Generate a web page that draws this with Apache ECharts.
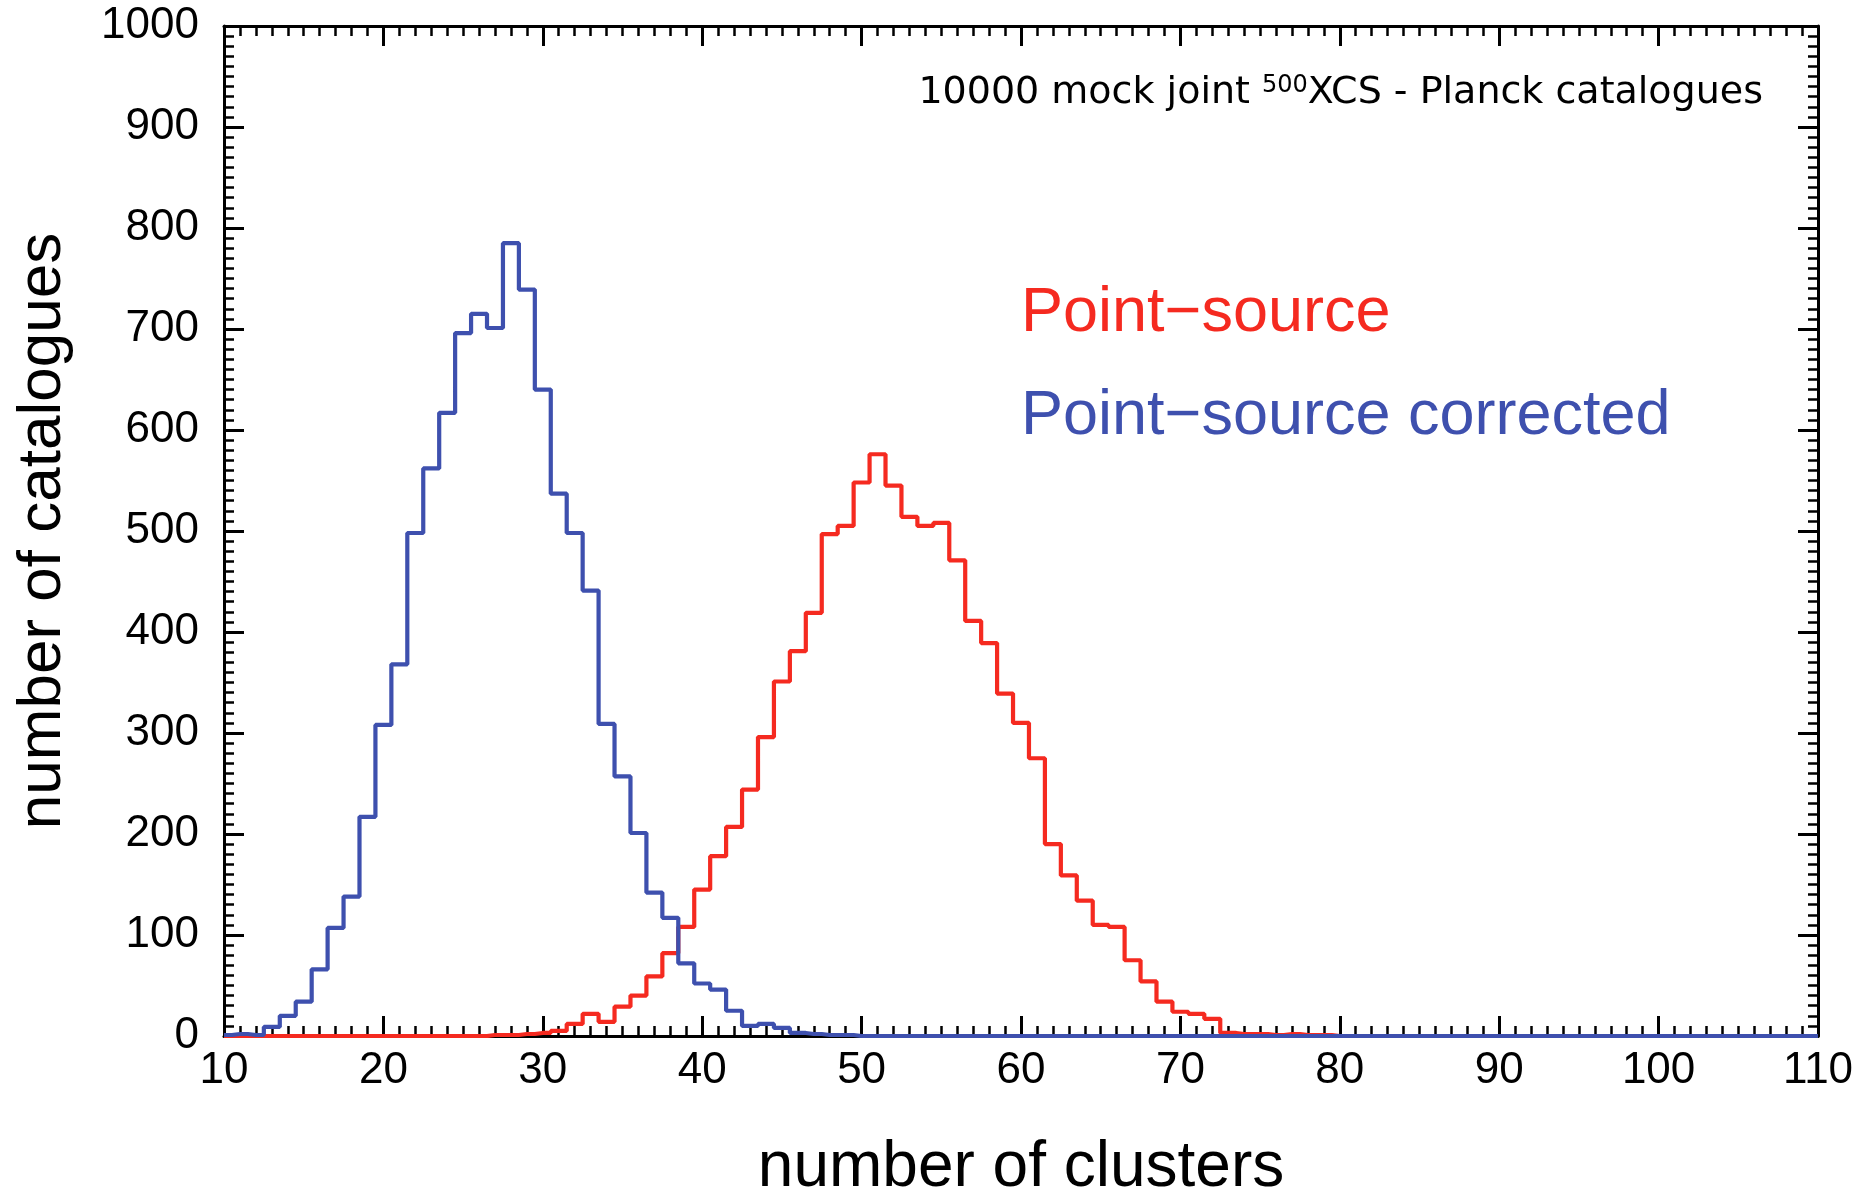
<!DOCTYPE html>
<html>
<head>
<meta charset="utf-8">
<script src="https://cdn.jsdelivr.net/npm/echarts@6/dist/echarts.min.js"></script>
<style>
html,body{margin:0;padding:0;background:#fff;}
#chart{width:1872px;height:1189px;}
</style>
</head>
<body>
<div id="chart"></div>
<script>
// Bin centres (number of clusters)
const binCenters = [10,11,12,13,14,15,16,17,18,19,20,21,22,23,24,25,26,27,28,29,30,31,32,33,34,35,36,37,38,39,40,41,42,43,44,45,46,47,48,49,50,51,52,53,54,55,56,57,58,59,60,61,62,63,64,65,66,67,68,69,70,71,72,73,74,75,76,77,78,79,80,81,82,83,84,85,86,87,88,89,90,91,92,93,94,95,96,97,98,99,100,101,102,103,104,105,106,107,108,109,110];

// Point-source (red) histogram counts
const pointSource = [
  0,0,0,0,0,0,0,0,0,0,
  0,0,0,0,0,0,0,1,1,2,
  3,5,12,22,14,29,40,59,82,108,
  145,178,207,244,296,351,381,419,497,505,
  548,576,545,514,505,508,471,411,389,339,
  310,275,190,159,134,110,108,75,54,34,
  24,22,17,3,2,2,1,2,1,1,
  0,0,0,0,0,0,0,0,0,0,
  0,0,0,0,0,0,0,0,0,0,
  0,0,0,0,0,0,0,0,0,0,
  0
];

// Point-source corrected (blue) histogram counts
const pointSourceCorrected = [
  1,2,1,9,20,34,66,107,138,217,
  308,368,498,562,617,696,715,701,785,739,
  640,537,498,441,309,257,201,142,117,72,
  52,46,25,10,12,8,3,2,1,1,
  0,0,0,0,0,0,0,0,0,0,
  0,0,0,0,0,0,0,0,0,0,
  0,0,0,0,0,0,0,0,0,0,
  0,0,0,0,0,0,0,0,0,0,
  0,0,0,0,0,0,0,0,0,0,
  0,0,0,0,0,0,0,0,0,0,
  0
];

const xTicks = [10,20,30,40,50,60,70,80,90,100,110];
const yTicks = [0,100,200,300,400,500,600,700,800,900,1000];

const RED = '#f52a20';
const BLUE = '#3e50ae';

const chart = echarts.init(document.getElementById('chart'), null, {renderer: 'canvas'});

const axisLineStyle = {color: '#000', width: 3};
const tickStyle = {color: '#000', width: 3};
const FONT = 'Liberation Sans, Arial, sans-serif';

function xAxisCfg(pos, showLabel) {
  return {
    type: 'value', position: pos, min: xTicks[0], max: xTicks[xTicks.length - 1], interval: 10,
    axisLine: {show: true, onZero: false, lineStyle: axisLineStyle},
    axisTick: {show: true, inside: true, length: 20, lineStyle: tickStyle},
    minorTick: {show: true, splitNumber: 10, length: 10, lineStyle: {color: '#000', width: 2.5}},
    splitLine: {show: false},
    axisLabel: {show: showLabel, margin: 13, color: '#000', fontSize: 44, fontFamily: FONT,
      formatter: v => String(v)},
    name: showLabel ? 'number of clusters' : '',
    nameLocation: 'middle', nameGap: 100,
    nameTextStyle: {color: '#000', fontSize: 64, fontFamily: FONT}
  };
}
function yAxisCfg(pos, showLabel) {
  return {
    type: 'value', position: pos, min: yTicks[0], max: yTicks[yTicks.length - 1], interval: 100,
    axisLine: {show: true, onZero: false, lineStyle: axisLineStyle},
    axisTick: {show: true, inside: true, length: 20, lineStyle: tickStyle},
    minorTick: {show: true, splitNumber: 10, length: 10, lineStyle: {color: '#000', width: 2.5}},
    splitLine: {show: false},
    axisLabel: {show: showLabel, margin: 25, color: '#000', fontSize: 44, fontFamily: FONT,
      formatter: v => String(v)},
    name: showLabel ? 'number of catalogues' : '',
    nameLocation: 'middle', nameGap: 150, nameRotate: 90,
    nameTextStyle: {color: '#000', fontSize: 62, fontFamily: FONT}
  };
}

const option = {
  backgroundColor: '#fff',
  animation: false,
  grid: {left: 224, right: 54, top: 26, bottom: 153, containLabel: false, outerBoundsMode: 'none'},
  xAxis: [xAxisCfg('bottom', true), xAxisCfg('top', false)],
  yAxis: [yAxisCfg('left', true), yAxisCfg('right', false)],
  series: [
    {
      name: 'Point−source', type: 'line', step: 'middle', symbol: 'none',
      xAxisIndex: 0, yAxisIndex: 0,
      data: binCenters.map((x, i) => [x, pointSource[i]]),
      lineStyle: {color: RED, width: 4.2}, itemStyle: {color: RED}, z: 2
    },
    {
      name: 'Point−source corrected', type: 'line', step: 'middle', symbol: 'none',
      xAxisIndex: 0, yAxisIndex: 0,
      data: binCenters.map((x, i) => [x, pointSourceCorrected[i]]),
      lineStyle: {color: BLUE, width: 4.2}, itemStyle: {color: BLUE}, z: 3
    }
  ],
  graphic: [
    {
      type: 'text', z: 10,
      style: {
        x: 1763, y: 93, align: 'right', verticalAlign: 'middle',
        text: '10000 mock joint {sup|500}XCS - Planck catalogues',
        font: '38px "DejaVu Sans", sans-serif', fill: '#000',
        rich: {
          sup: {fontSize: 24, fontFamily: 'DejaVu Sans', verticalAlign: 'top', fill: '#000'}
        }
      }
    },
    {
      type: 'text', z: 10,
      style: {x: 1021, y: 314, align: 'left', verticalAlign: 'middle',
        text: 'Point−source', font: '63px "Liberation Sans", Arial, sans-serif', fill: RED}
    },
    {
      type: 'text', z: 10,
      style: {x: 1021, y: 417, align: 'left', verticalAlign: 'middle',
        text: 'Point−source corrected', font: '63px "Liberation Sans", Arial, sans-serif', fill: BLUE}
    }
  ]
};
chart.setOption(option);
</script>
</body>
</html>
